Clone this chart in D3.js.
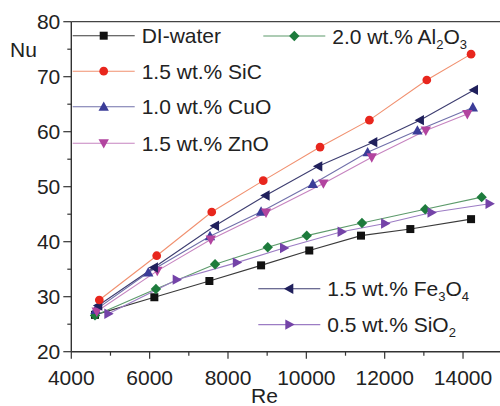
<!DOCTYPE html>
<html>
<head>
<meta charset="utf-8">
<script src="https://cdn.jsdelivr.net/npm/d3@7"></script>
<style>
  html, body { margin: 0; padding: 0; background: #fff; }
  svg text { font-family: "Liberation Sans", Arial, sans-serif; fill: #222; }
</style>
</head>
<body>
<svg id="chart" width="500" height="406"></svg>
<script>
// Nusselt number vs Reynolds number for water and several nanofluids
const reDI    = [4605, 6120, 7525, 8845, 10075, 11395, 12655, 14205];
const nuDI    = [26.7, 29.9, 32.85, 35.7, 38.4, 41.1, 42.3, 44.1];

const reSiC   = [4715, 6180, 7585, 8900, 10350, 11610, 13075, 14205];
const nuSiC   = [29.4, 37.45, 45.4, 51.1, 57.2, 62.1, 69.4, 74.1];

const reCuO   = [4620, 5965, 7540, 8845, 10165, 11565, 12835, 14250];
const nuCuO   = [27.6, 34.4, 41.0, 45.45, 50.5, 56.25, 60.2, 64.4];

const reZnO   = [4650, 6195, 7560, 8970, 10435, 11670, 13050, 14110];
const nuZnO   = [27.3, 34.7, 40.4, 45.3, 50.6, 55.35, 60.2, 63.2];

const reAl2O3 = [4605, 6160, 7670, 9015, 10010, 11420, 13035, 14475];
const nuAl2O3 = [26.6, 31.4, 35.9, 39.0, 41.1, 43.4, 45.9, 48.1];

const reFe3O4 = [4690, 6110, 7670, 8960, 10305, 11710, 12900, 14280];
const nuFe3O4 = [28.4, 35.3, 42.9, 48.4, 53.7, 58.1, 62.1, 67.6];

const reSiO2  = [4945, 6690, 8225, 9430, 10900, 12010, 13195, 14675];
const nuSiO2  = [26.9, 33.1, 36.2, 38.85, 41.8, 43.3, 45.3, 46.9];

const xTicks = [4000, 6000, 8000, 10000, 12000, 14000];
const yTicks = [20, 30, 40, 50, 60, 70, 80];

const series = [
  { name: "DI-water", parts: null, re: reDI, nu: nuDI, shape: "square", fill: "#111111", line: "#3a3a3a" },
  { name: "2.0 wt.% Al", parts: [["2.0 wt.% Al", false], ["2", true], ["O", false], ["3", true]], re: reAl2O3, nu: nuAl2O3, shape: "diamond", fill: "#1d7b3c", line: "#5c9a6b" },
  { name: "1.5 wt.% SiO", parts: [["0.5 wt.% SiO", false], ["2", true]], re: reSiO2, nu: nuSiO2, shape: "right", fill: "#7443a8", line: "#9c7cc4" },
  { name: "1.0 wt.% CuO", parts: null, re: reCuO, nu: nuCuO, shape: "up", fill: "#3b3c98", line: "#7070aa" },
  { name: "1.5 wt.% ZnO", parts: null, re: reZnO, nu: nuZnO, shape: "down", fill: "#b2449f", line: "#c684c0" },
  { name: "1.5 wt.% Fe", parts: [["1.5 wt.% Fe", false], ["3", true], ["O", false], ["4", true]], re: reFe3O4, nu: nuFe3O4, shape: "left", fill: "#20205c", line: "#3d3d70" },
  { name: "1.5 wt.% SiC", parts: null, re: reSiC, nu: nuSiC, shape: "circle", fill: "#e8261d", line: "#f1906f" }
];

const svg = d3.select("#chart");
const x = d3.scaleLinear().domain([4000, 15000]).range([71.3, 502.2]);
const y = d3.scaleLinear().domain([20, 80]).range([351.7, 21.7]);

function markerPath(shape) {
  const s = 4.6;
  switch (shape) {
    case "square":  return `M${-4},${-4}h8v8h-8z`;
    case "circle":  return d3.symbol(d3.symbolCircle, 60)();
    case "diamond": return `M0,${-5.2}L${5.2},0L0,${5.2}L${-5.2},0z`;
    case "up":      return `M0,${-s - 0.8}L${s + 0.6},${s - 0.6}L${-s - 0.6},${s - 0.6}z`;
    case "down":    return `M0,${s + 0.8}L${s + 0.6},${-s + 0.6}L${-s - 0.6},${-s + 0.6}z`;
    case "left":    return `M${-s - 0.8},0L${s - 0.6},${-s - 0.6}L${s - 0.6},${s + 0.6}z`;
    case "right":   return `M${s + 0.8},0L${-s + 0.6},${-s - 0.6}L${-s + 0.6},${s + 0.6}z`;
  }
}

// frame: top border
svg.append("line")
  .attr("x1", x(4000)).attr("x2", 500)
  .attr("y1", y(80)).attr("y2", y(80))
  .attr("stroke", "#444").attr("stroke-width", 1.3);

// axes with major and minor ticks
const axisColor = "#333";
const gx = svg.append("g").attr("transform", `translate(0,${y(20)})`);
gx.append("line").attr("x1", x(4000)).attr("x2", 500).attr("stroke", axisColor).attr("stroke-width", 1.4);
gx.selectAll(".minor").data(d3.range(5000, 15001, 2000)).join("line")
  .attr("x1", d => x(d)).attr("x2", d => x(d)).attr("y1", 0).attr("y2", 4)
  .attr("stroke", axisColor).attr("stroke-width", 1.2);
gx.selectAll(".major").data(xTicks).join("line")
  .attr("x1", d => x(d)).attr("x2", d => x(d)).attr("y1", 0).attr("y2", 7)
  .attr("stroke", axisColor).attr("stroke-width", 1.2);
gx.selectAll("text").data(xTicks).join("text")
  .attr("x", d => x(d)).attr("y", 33)
  .attr("text-anchor", "middle").attr("font-size", 21)
  .text(d => d);

const gy = svg.append("g").attr("transform", `translate(${x(4000)},0)`);
gy.append("line").attr("y1", y(20)).attr("y2", y(80)).attr("stroke", axisColor).attr("stroke-width", 1.4);
gy.selectAll(".minor").data(d3.range(25, 80, 10)).join("line")
  .attr("y1", d => y(d)).attr("y2", d => y(d)).attr("x1", 0).attr("x2", -4)
  .attr("stroke", axisColor).attr("stroke-width", 1.2);
gy.selectAll(".major").data(yTicks).join("line")
  .attr("y1", d => y(d)).attr("y2", d => y(d)).attr("x1", 0).attr("x2", -8)
  .attr("stroke", axisColor).attr("stroke-width", 1.2);
gy.selectAll("text").data(yTicks).join("text")
  .attr("x", -11).attr("y", d => y(d) + 7.5)
  .attr("text-anchor", "end").attr("font-size", 21)
  .text(d => d);

svg.append("text").attr("x", 10).attr("y", 57).attr("font-size", 21).text("Nu");
svg.append("text").attr("x", 251).attr("y", 403).attr("font-size", 21).text("Re");

// data lines and markers
const lineGen = d3.line().x(d => x(d[0])).y(d => y(d[1]));
series.forEach(s => {
  const pts = s.re.map((r, i) => [r, s.nu[i]]);
  svg.append("path").datum(pts)
    .attr("d", lineGen).attr("fill", "none")
    .attr("stroke", s.line).attr("stroke-width", 1.1);
});
series.forEach(s => {
  const pts = s.re.map((r, i) => [r, s.nu[i]]);
  svg.append("g").selectAll("path").data(pts).join("path")
    .attr("transform", d => `translate(${x(d[0])},${y(d[1])})`)
    .attr("d", markerPath(s.shape))
    .attr("fill", s.fill);
});

// legend
const byShape = k => series.find(s => s.shape === k);
const legendItems = [
  { s: byShape("square"),  x0: 72.7,  y0: 35.7,  label: [["DI-water", false]] },
  { s: byShape("circle"),  x0: 72.7,  y0: 71.2,  label: [["1.5 wt.% SiC", false]] },
  { s: byShape("up"),      x0: 72.7,  y0: 106.8, label: [["1.0 wt.% CuO", false]] },
  { s: byShape("down"),    x0: 72.7,  y0: 143.2, label: [["1.5 wt.% ZnO", false]] },
  { s: byShape("diamond"), x0: 263.3, y0: 36,    label: byShape("diamond").parts },
  { s: byShape("left"),    x0: 258.3, y0: 288.8, label: byShape("left").parts },
  { s: byShape("right"),   x0: 258.3, y0: 324.6, label: byShape("right").parts }
];
legendItems.forEach(it => {
  const g = svg.append("g");
  g.append("line").attr("x1", it.x0).attr("x2", it.x0 + 62)
    .attr("y1", it.y0).attr("y2", it.y0)
    .attr("stroke", it.s.line).attr("stroke-width", 1.1);
  g.append("path").attr("transform", `translate(${it.x0 + 31},${it.y0})`)
    .attr("d", markerPath(it.s.shape)).attr("fill", it.s.fill);
  const t = g.append("text").attr("x", it.x0 + 69).attr("y", it.y0 + 7.5).attr("font-size", 21);
  it.label.forEach(([txt, sub]) => {
    const ts = t.append("tspan").text(txt);
    if (sub) ts.attr("font-size", 13).attr("dy", 5);
    else if (t.selectAll("tspan").size() > 1) ts.attr("dy", -5);
  });
});
</script>
</body>
</html>
